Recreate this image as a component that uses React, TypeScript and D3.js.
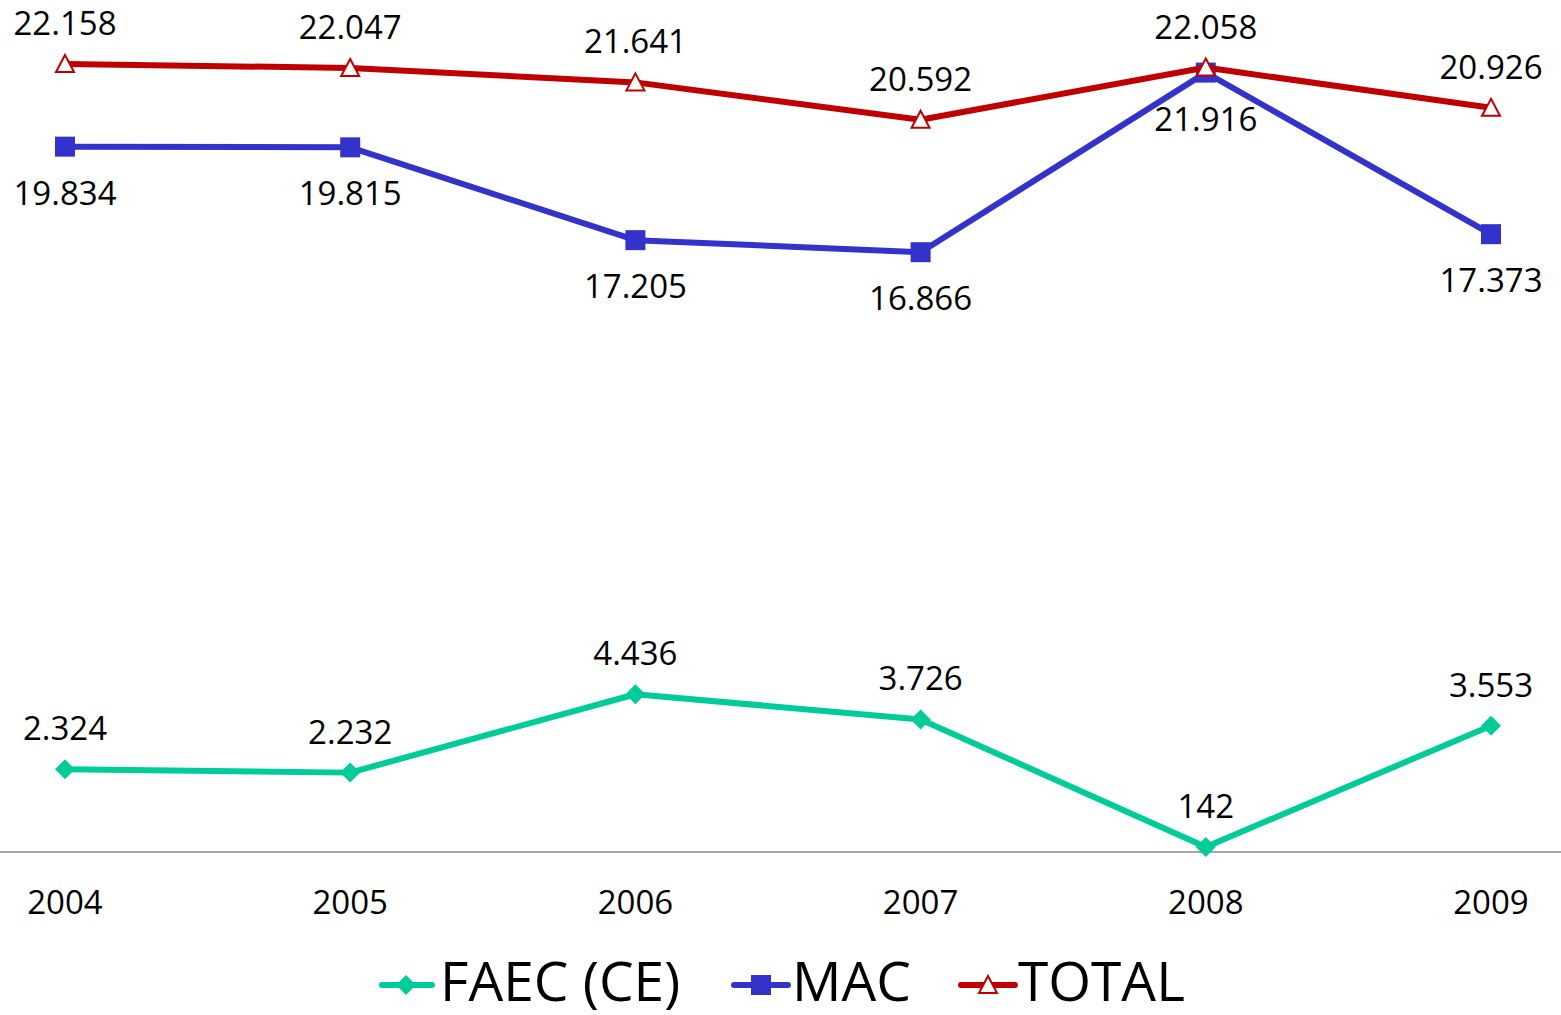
import React from "react";
import * as d3 from "d3";

const years = ["2004", "2005", "2006", "2007", "2008", "2009"];
const faec = [2324, 2232, 4436, 3726, 142, 3553];
const mac = [19834, 19815, 17205, 16866, 21916, 17373];
const total = [22158, 22047, 21641, 20592, 22058, 20926];
const faecLabels = ["2.324", "2.232", "4.436", "3.726", "142", "3.553"];
const macLabels = ["19.834", "19.815", "17.205", "16.866", "21.916", "17.373"];
const totalLabels = ["22.158", "22.047", "21.641", "20.592", "22.058", "20.926"];
const seriesNames = ["FAEC (CE)", "MAC", "TOTAL"];

const W = 1561;
const H = 1015;
const FONT = "'Open Sans', sans-serif";
const C_FAEC = "#00CC99";
const C_MAC = "#3333CC";
const C_TOTAL = "#C00000";

export default function App() {
  const x = d3.scalePoint<string>().domain(years).range([65, 1491]);
  const y = d3.scaleLinear().domain([0, 24000]).range([852, -1.5]);
  const line = d3
    .line<number>()
    .x((_, i) => x(years[i]) as number)
    .y((d) => y(d));

  const diamond = (cx: number, cy: number, r = 10) =>
    `M${cx},${cy - r}L${cx + r},${cy}L${cx},${cy + r}L${cx - r},${cy}Z`;
  const triangle = (cx: number, cy: number, s = 9) =>
    `M${cx},${cy - s}L${cx + s},${cy + s - 1}L${cx - s},${cy + s - 1}Z`;

  const labelStyle = { fontFamily: FONT, fontSize: 33, fill: "#000" } as const;

  return (
    <svg
      width={W}
      height={H}
      style={{ position: "absolute", left: 0, top: 0, display: "block", background: "#fff" }}
    >
      <rect x={0} y={0} width={W} height={H} fill="#fff" />
      <line x1={0} x2={W} y1={y(0)} y2={y(0)} stroke="#A6A6A6" strokeWidth={2} />
      {years.map((yr) => (
        <text key={yr} x={x(yr)} y={914} textAnchor="middle" {...labelStyle}>
          {yr}
        </text>
      ))}

      {/* FAEC */}
      <path d={line(faec) || ""} fill="none" stroke={C_FAEC} strokeWidth={6} strokeLinejoin="round" />
      {faec.map((v, i) => (
        <path key={"fd" + i} d={diamond(x(years[i]) as number, y(v))} fill={C_FAEC} />
      ))}
      {faec.map((v, i) => (
        <text key={"fl" + i} x={x(years[i])} y={y(v) - 29} textAnchor="middle" {...labelStyle}>
          {faecLabels[i]}
        </text>
      ))}

      {/* MAC */}
      <path d={line(mac) || ""} fill="none" stroke={C_MAC} strokeWidth={6} strokeLinejoin="round" />
      {mac.map((v, i) => (
        <rect
          key={"md" + i}
          x={(x(years[i]) as number) - 10}
          y={y(v) - 10}
          width={20}
          height={20}
          fill={C_MAC}
        />
      ))}
      {mac.map((v, i) => (
        <text key={"ml" + i} x={x(years[i])} y={y(v) + 58} textAnchor="middle" {...labelStyle}>
          {macLabels[i]}
        </text>
      ))}

      {/* TOTAL */}
      <path d={line(total) || ""} fill="none" stroke={C_TOTAL} strokeWidth={6} strokeLinejoin="round" />
      {total.map((v, i) => (
        <path
          key={"td" + i}
          d={triangle(x(years[i]) as number, y(v))}
          fill="#fff"
          stroke={C_TOTAL}
          strokeWidth={2}
        />
      ))}
      {total.map((v, i) => (
        <text key={"tl" + i} x={x(years[i])} y={y(v) - 29} textAnchor="middle" {...labelStyle}>
          {totalLabels[i]}
        </text>
      ))}

      {/* Legend */}
      <g>
        <line x1={382} x2={432} y1={985} y2={985} stroke={C_FAEC} strokeWidth={6} strokeLinecap="round" />
        <path d={diamond(406, 985, 10)} fill={C_FAEC} />
        <text x={440} y={1001} fontFamily={FONT} fontSize={55} fill="#000">
          {seriesNames[0]}
        </text>
        <line x1={734} x2={788} y1={985} y2={985} stroke={C_MAC} strokeWidth={6} strokeLinecap="round" />
        <rect x={751} y={975} width={20} height={20} fill={C_MAC} />
        <text x={792} y={1001} fontFamily={FONT} fontSize={55} fill="#000">
          {seriesNames[1]}
        </text>
        <line x1={961} x2={1015} y1={985} y2={985} stroke={C_TOTAL} strokeWidth={6} strokeLinecap="round" />
        <path d={triangle(988, 985, 9)} fill="#fff" stroke={C_TOTAL} strokeWidth={2} />
        <text x={1018} y={1001} fontFamily={FONT} fontSize={55} fill="#000">
          {seriesNames[2]}
        </text>
      </g>
    </svg>
  );
}
